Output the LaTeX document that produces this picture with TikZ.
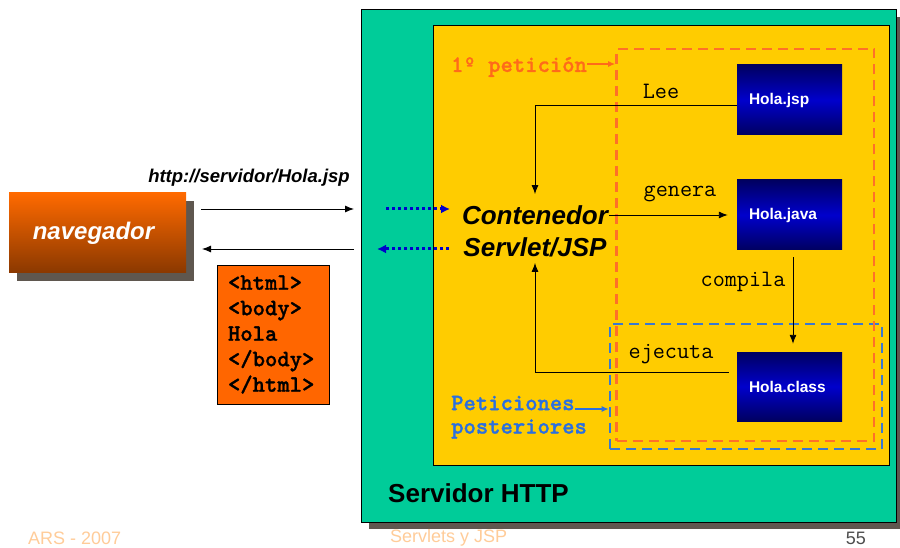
\documentclass[tikz,border=0pt]{standalone}
\usepackage{fontspec}
\setmainfont{Liberation Sans}
\newfontfamily\monoheavy{lmmonolt10-bold.otf}[FakeBold=1.2]
\usetikzlibrary{arrows.meta,calc}
\definecolor{srvgreen}{HTML}{00CC99}
\definecolor{contyellow}{HTML}{FFCC00}
\definecolor{navorange}{HTML}{FF6A00}
\definecolor{navdark}{HTML}{8A3800}
\definecolor{htmlorange}{HTML}{FF6600}
\definecolor{shadowc}{HTML}{5F574F}
\definecolor{navyd}{HTML}{000060}
\definecolor{navyl}{HTML}{0000CC}
\definecolor{petorange}{HTML}{FF6A1A}
\definecolor{rectorange}{HTML}{FF7028}
\definecolor{petblue}{HTML}{2A6FE0}
\definecolor{rectblue}{HTML}{3A78D0}
\definecolor{dotblue}{HTML}{0000CC}
\definecolor{footc}{HTML}{FFCC99}
\definecolor{pagec}{HTML}{4D4D4D}
\tikzset{
  arr/.style={draw=black, line width=0.9pt, -{Latex[length=9pt,width=7pt]}},
  dotarr/.style={draw=dotblue, line width=3pt, dash pattern=on 3pt off 3pt, -{Latex[length=9pt,width=9pt]}},
  holabox/.style={minimum height=70pt, text width=105pt, inner xsep=0pt, inner ysep=0pt, align=left,
     top color=navyd, bottom color=navyd, middle color=navyl, text=white, font=\fontsize{15.5}{18}\selectfont\bfseries},
  monolab/.style={font=\ttfamily\fontsize{23.5}{26}\selectfont, inner sep=0pt},
  monobold/.style={font=\monoheavy\fontsize{23.5}{25.5}\selectfont, inner sep=0pt},
  dashrect/.style={line width=2.6pt, dash pattern=on 10pt off 6pt},
  footer/.style={font=\fontsize{18}{20}\selectfont, inner sep=0pt},
}
\begin{document}
\begin{tikzpicture}[x=1pt,y=-1pt]
\useasboundingbox[fill=white] (0,0) rectangle (900,548);

% Servidor HTTP box with shadow
\fill[shadowc] (369,17) rectangle (904,529);
\node[draw=black, line width=0.8pt, fill=srvgreen, minimum width=535pt, minimum height=513pt, inner sep=0pt] (srv) at (628.5,265.5) {};
\node[anchor=west, font=\fontsize{26}{30}\selectfont\bfseries, inner sep=0pt] (srvlab) at (388,493) {Servidor HTTP};

% container box
\node[draw=black, line width=0.8pt, fill=contyellow, minimum width=456pt, minimum height=440pt, inner sep=0pt] (cnt) at (661,245) {};

% dashed regions
\node[draw=rectblue, dashrect, minimum width=272pt, minimum height=125pt, inner sep=0pt] (brect) at (746,386.5) {};
\node[draw=rectorange, dashrect, minimum width=257.5pt, minimum height=392pt, inner sep=0pt] (orect) at (745.25,245) {};

% Hola boxes
\node[holabox] (hjsp) at (789.5,100) {\hspace*{12pt}Hola.jsp};
\node[holabox] (hjava) at (789.5,215) {\hspace*{12pt}Hola.java};
\node[holabox, minimum height=69pt] (hclass) at (789.5,386.5) {\hspace*{12pt}Hola.class};

% Contenedor
\node[font=\fontsize{26}{32}\selectfont\bfseries\itshape, align=center, inner sep=1pt] (cont) at (535,231) {Contenedor\\Servlet/JSP};

% labels
\node[monolab] (lee) at (661,91) {Lee};
\node[monolab] (gen) at (680,194) {genera};
\node[monolab] (comp) at (743,282) {compila};
\node[monolab] (ejec) at (671,354) {ejecuta};

\node[monobold, text=petorange, anchor=west] (pet) at (451,67) {1º petición};
\node[monobold, text=petblue, anchor=west] (post1) at (451,403) {Peticiones};
\node[monobold, text=petblue, anchor=west] (post2) at (451,429) {posteriores};

% internal connectors
\draw[arr, shorten >=10pt] ([yshift=-5pt]hjsp.west) -| (cont.north);
\draw[arr, shorten >=9pt] (cont.east |- hjava.west) -- (hjava.west);
\draw[arr, shorten <=7pt, shorten >=8pt] ([xshift=3.5pt]hjava.south) -- ([xshift=3.5pt]hclass.north);
\draw[arr, shorten <=8pt, shorten >=5pt] ([yshift=14.5pt]hclass.west) -| (cont.south);
\draw[draw=petorange, line width=1.2pt, -{Latex[length=7pt,width=6pt]}] ([yshift=3pt]pet.east) -- ([yshift=3pt]pet.east -| orect.west);
\draw[draw=petblue, line width=1.2pt, -{Latex[length=7pt,width=6pt]}] ([yshift=-6pt]post1.east) -- ([yshift=-6pt]post1.east -| brect.west);

% navegador
\fill[shadowc] (17,201) rectangle (194,281);
\node[top color=navorange, bottom color=navdark, minimum width=177pt, minimum height=80pt, inner sep=0pt,
      text=white, font=\fontsize{24}{28}\selectfont\bfseries\itshape] (nav) at (97.5,233) {\hspace*{-8pt}navegador};

\node[font=\fontsize{18.5}{22}\selectfont\bfseries\itshape, inner sep=0pt] (url) at (249,178) {http://servidor/Hola.jsp};

% html response
\node[draw=black, line width=0.8pt, fill=htmlorange, monobold, text width=90pt, inner xsep=11pt, align=left,
      minimum height=139pt] (html) at (273,334.5) {<html>\\<body>\\Hola\\</body>\\</html>};

% request / response arrows
\coordinate (reqs) at (201,209);
\coordinate (reqe) at (354,209);
\coordinate (ress) at (354,249);
\coordinate (rese) at (202,249);
\draw[arr] (reqs) -- (reqe);
\draw[arr] (ress) -- (rese);

\coordinate (dreqs) at (386,209);
\coordinate (dreqe) at (450,209);
\coordinate (dress) at (449,249);
\coordinate (drese) at (377,249);
\draw[dotarr] (dreqs) -- (dreqe);
\draw[dotarr] (dress) -- (drese);

% footer
\node[footer, text=footc, anchor=west] (f1) at (28,538) {ARS - 2007};
\node[footer, text=footc, anchor=west] (f2) at (390,538) {Servlets y JSP};
\node[footer, text=pagec, anchor=east] (f3) at (866,538) {55};
\end{tikzpicture}
\end{document}
